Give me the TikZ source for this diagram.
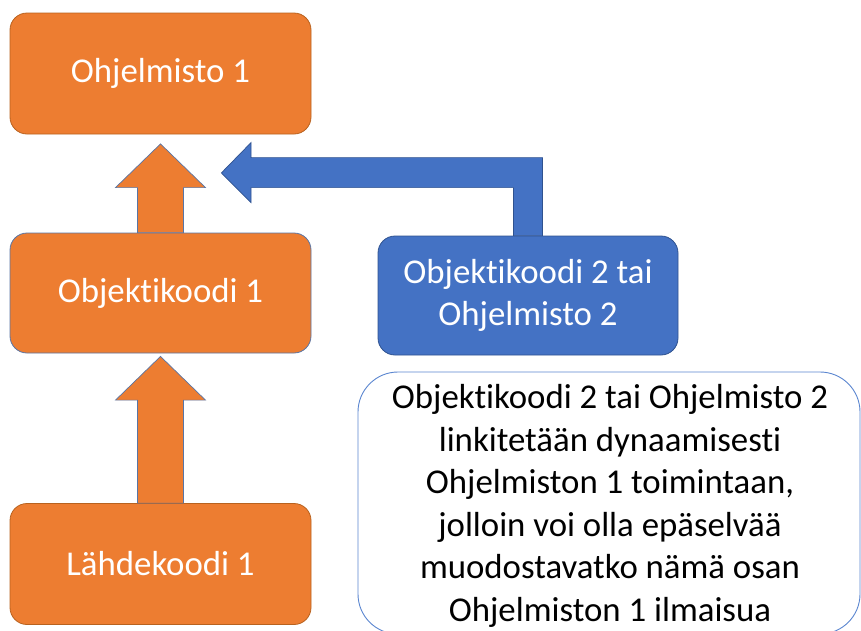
\documentclass[tikz,border=0pt]{standalone}
\usepackage{fontspec}
\setmainfont{Carlito}[Ligatures=NoCommon]
\usetikzlibrary{calc}
\definecolor{orng}{HTML}{ED7D31}
\definecolor{orngline}{HTML}{B8621F}
\definecolor{blu}{HTML}{4472C4}
\definecolor{bluline}{HTML}{2F528F}
\definecolor{noteline}{HTML}{5B86D0}
\begin{document}
\begin{tikzpicture}[x=1pt,y=-1pt,
  bigtext/.style={font=\fontsize{34.8}{42.5}\selectfont},
  obox/.style={bigtext, rectangle, rounded corners=17pt, fill=orng, draw=orngline, line width=0.8pt, text=white, inner sep=0pt, minimum width=301pt, minimum height=121pt, align=center},
  bbox/.style={bigtext, rectangle, rounded corners=17pt, fill=blu, draw=bluline, line width=0.8pt, text=white, inner sep=0pt, minimum width=300pt, minimum height=119pt, align=center},
  notebox/.style={rectangle, rounded corners=40pt, fill=white, draw=noteline, line width=0.9pt, inner sep=0pt, minimum width=502pt, minimum height=262pt},
  notetext/.style={bigtext, text=black, inner sep=0pt, align=center},
  oarrow/.style={fill=orng, draw=bluline!80, line width=0.7pt, line join=miter},
  barrow/.style={fill=blu, draw=bluline, line width=0.7pt, line join=miter}
]
\useasboundingbox (0,0) rectangle (861,630);
\clip (0,0) rectangle (861,630);

% boxes
\node[obox] (ohj1) at (160.5,73.5) {Ohjelmisto 1};
\node[obox, draw=bluline!80, minimum height=120pt] (obj1) at (160.5,293) {Objektikoodi 1};
\node[obox] (lah1) at (160.5,564) {Lähdekoodi 1};
\node[bbox] (b2) at (528,295.5) {Objektikoodi 2 tai\\Ohjelmisto 2};
\node[notebox] (note) at (609,503) {};
\node[notetext] (notet) at (610,506) {Objektikoodi 2 tai Ohjelmisto 2\\linkitetään dynaamisesti\\Ohjelmiston 1 toimintaan,\\jolloin voi olla epäselvää\\muodostavatko nämä osan\\Ohjelmiston 1 ilmaisua};

% orange block arrow: Objektikoodi 1 -> Ohjelmisto 1
\draw[oarrow] ($(obj1.north)+(-23,0)$) -- ($(obj1.north)+(-23,-45)$) -- ($(obj1.north)+(-45,-45)$)
  -- ($(ohj1.south)+(0,9.5)$)
  -- ($(obj1.north)+(45,-45)$) -- ($(obj1.north)+(23,-45)$) -- ($(obj1.north)+(23,0)$) -- cycle;

% orange block arrow: Lähdekoodi 1 -> Objektikoodi 1
\draw[oarrow] ($(lah1.north)+(-23,0)$) -- ($(lah1.north)+(-23,-103)$) -- ($(lah1.north)+(-45,-103)$)
  -- ($(obj1.south)+(0,3)$)
  -- ($(lah1.north)+(45,-103)$) -- ($(lah1.north)+(23,-103)$) -- ($(lah1.north)+(23,0)$) -- cycle;

% blue bent block arrow: Objektikoodi 2 -> Ohjelmisto 1
\draw[barrow] ($(b2.north)+(-14.5,0)$) -- ($(b2.north)+(-14.5,-48)$) -- ($(b2.north)+(-277,-48)$)
  -- ($(b2.north)+(-277,-33)$)
  -- ($(ohj1.south east)+(-90,38.5)$)
  -- ($(b2.north)+(-277,-93)$) -- ($(b2.north)+(-277,-78)$)
  -- ($(b2.north)+(14.5,-78)$) -- ($(b2.north)+(14.5,0)$) -- cycle;
\end{tikzpicture}
\end{document}
